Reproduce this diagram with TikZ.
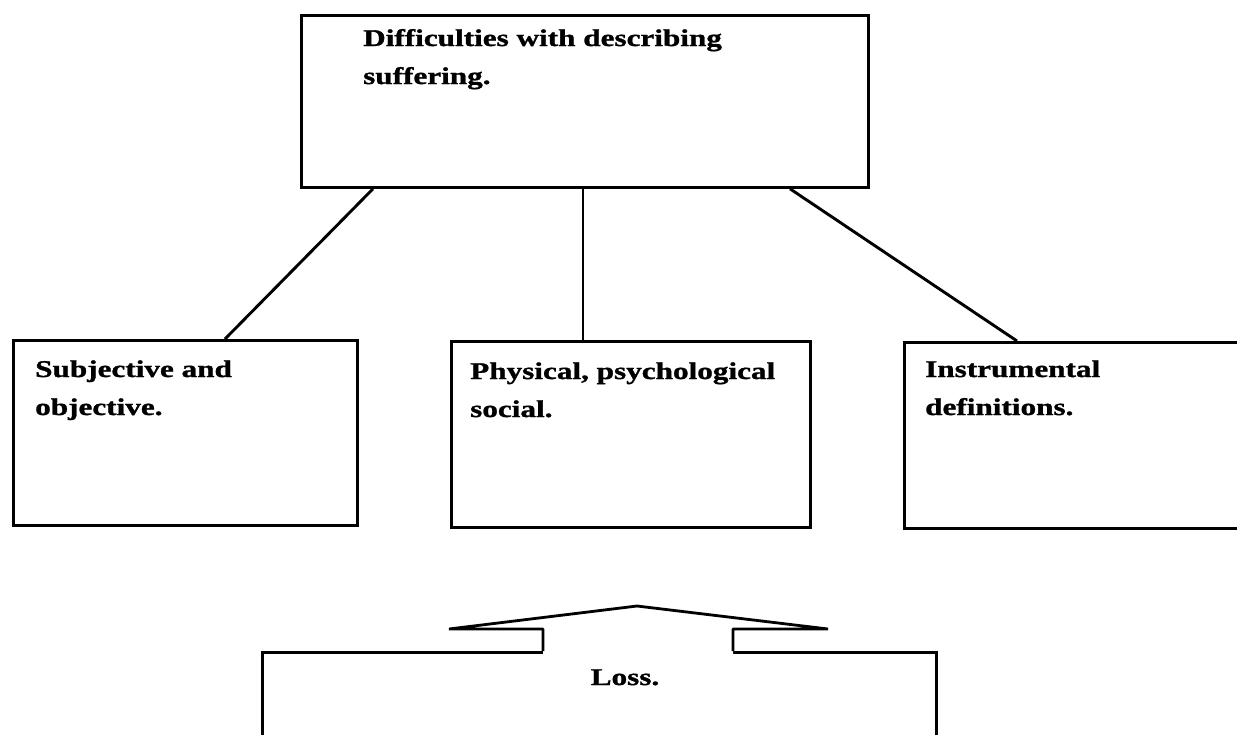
\documentclass[tikz,border=0pt]{standalone}
\usepackage{fontspec}
\newfontfamily\lblfont[FakeStretch=1.3,FakeBold=1.2]{Liberation Serif}
\usetikzlibrary{calc}
\begin{document}
\begin{tikzpicture}[x=1pt,y=-1pt,
  box/.style={draw=black,line width=2.8pt,rectangle,inner sep=0pt,anchor=north west},
  lbl/.style={inner sep=0pt,anchor=base west,align=left,font=\lblfont\bfseries\fontsize{24}{38}\selectfont},
  conn/.style={draw=black,line width=2.9pt}]
\clip (0,0) rectangle (1237,734);
\fill[white] (0,0) rectangle (1237,734);
% boxes
\node[box,minimum width=567pt,minimum height=172pt] (top) at (300,14) {};
\node[box,minimum width=344pt,minimum height=185pt] (left) at (12,339) {};
\node[box,minimum width=359pt,minimum height=186pt] (mid) at (450,340) {};
\node[box,minimum width=360pt,minimum height=186pt] (right) at (903,341) {};
\node[box,minimum width=674pt,minimum height=140pt] (bot) at (261,651) {};
% texts (anchor base = baseline of the last line)
\node[lbl] (toptext) at ([xshift=63pt,yshift=-70pt]top.north west) {Difficulties with describing\\suffering.};
\node[lbl] (lefttext) at ([xshift=23pt,yshift=-76pt]left.north west) {Subjective and\\objective.};
\node[lbl] (midtext) at ([xshift=20pt,yshift=-77pt]mid.north west) {Physical, psychological\\social.};
\node[lbl] (righttext) at ([xshift=22pt,yshift=-74pt]right.north west) {Instrumental\\definitions.};
\node[lbl,anchor=base] (bottext) at ([xshift=364pt,yshift=-34pt]bot.north west) {Loss.};
% connectors
\draw[conn] ([xshift=73pt]top.south west) -- ([xshift=213pt]left.north west);
\draw[conn] ([xshift=283pt]top.south west) -- ([xshift=133pt]mid.north west);
\draw[conn] ([xshift=490pt]top.south west) -- ([xshift=114pt]right.north west);
% upward arrow on the bottom box
\coordinate (sl) at ([xshift=282pt]bot.north west);
\coordinate (sr) at ([xshift=472pt]bot.north west);
\fill[white] ($(sl)+(0,3)$) -- ($(sl)+(0,-22)$) -- ($(sl)+(-94,-22)$) -- ($(sl)+(94,-45)$)
  -- ($(sr)+(95,-22)$) -- ($(sr)+(0,-22)$) -- ($(sr)+(0,3)$) -- cycle;
\draw[line width=2.8pt,line join=bevel] (sl) -- ($(sl)+(0,-22)$) -- ($(sl)+(-94,-22)$) -- ($(sl)+(94,-45)$)
  -- ($(sr)+(95,-22)$) -- ($(sr)+(0,-22)$) -- (sr);
\end{tikzpicture}
\end{document}
